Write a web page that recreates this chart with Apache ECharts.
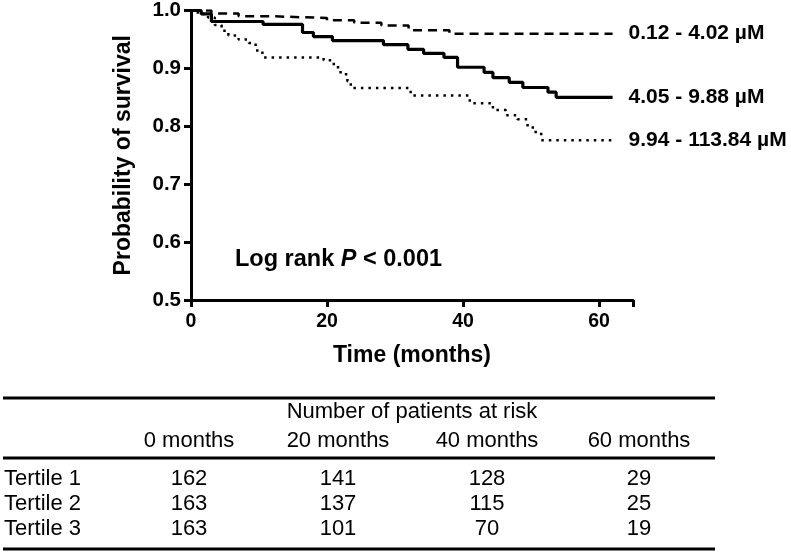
<!DOCTYPE html>
<html>
<head>
<meta charset="utf-8">
<script src="https://cdn.jsdelivr.net/npm/echarts@6/dist/echarts.min.js"></script>
<style>
html,body{margin:0;padding:0;background:#fff;}
#chart{width:791px;height:559px;}
</style>
</head>
<body>
<div id="chart"></div>
<script>
// ---- Kaplan-Meier curves (months, survival probability) ----
const t1Months = [0, 3, 7, 12, 20, 24, 28, 32, 38, 62];
const t1Surv   = [1.0, 0.995, 0.990, 0.987, 0.983, 0.979, 0.974, 0.966, 0.960, 0.960];

const t2Months = [0, 1.5, 3, 10.6, 16.4, 18, 20.8, 28.3, 31.9, 34.2, 37.2, 39.2, 43.1, 44.4, 46.8, 48.8, 52.5, 53.7, 62];
const t2Surv   = [1.0, 0.994, 0.981, 0.976, 0.962, 0.955, 0.948, 0.941, 0.933, 0.926, 0.919, 0.902, 0.893, 0.884, 0.876, 0.867, 0.859, 0.850, 0.850];

const t3Months = [0, 1, 2.5, 3.5, 4.5, 5.5, 7, 8.5, 9.5, 10.5, 19.5, 21, 22, 23, 23.5, 32.3, 41, 44.4, 46.3, 48, 49.5, 50.5, 51.5, 62];
const t3Surv   = [1.0, 0.994, 0.988, 0.975, 0.965, 0.957, 0.950, 0.944, 0.931, 0.919, 0.914, 0.902, 0.890, 0.878, 0.866, 0.853, 0.840, 0.828, 0.819, 0.812, 0.798, 0.790, 0.776, 0.776];

const seriesLabels = ['0.12 - 4.02 µM', '4.05 - 9.88 µM', '9.94 - 113.84 µM'];

// ---- Table: number of patients at risk ----
const tableTitle = 'Number of patients at risk';
const tableCols = ['0 months', '20 months', '40 months', '60 months'];
const tableRows = ['Tertile 1', 'Tertile 2', 'Tertile 3'];
const atRiskT1 = [162, 141, 128, 29];
const atRiskT2 = [163, 137, 115, 25];
const atRiskT3 = [163, 101, 70, 19];

const xTicks = [0, 20, 40, 60];
const yTicks = [0.5, 0.6, 0.7, 0.8, 0.9, 1.0];

function pairs(xs, ys) { return xs.map((x, i) => [x, ys[i]]); }

const FONT = '"Liberation Sans", Arial, Helvetica, sans-serif';
const chart = echarts.init(document.getElementById('chart'), null, {renderer: 'canvas'});

const mkSeries = (name, data, lineType, width) => ({
  name: name,
  type: 'line',
  step: 'end',
  data: data,
  symbol: 'none',
  lineStyle: {color: '#000', width: width, type: lineType},
  endLabel: {
    show: true,
    formatter: name,
    distance: 16,
    color: '#000',
    fontFamily: FONT,
    fontWeight: 'bold',
    fontSize: 21
  },
  animation: false,
  z: 3
});

// table graphics
const colX = [189, 338, 487, 639];
const rowY = [479, 504, 529];
const allRows = [atRiskT1, atRiskT2, atRiskT3];
const tableGraphics = [];
const tfont = {fontFamily: FONT, fontSize: 22, fill: '#000'};
[398, 458, 549].forEach(y => {
  tableGraphics.push({type: 'line', shape: {x1: 3, y1: y, x2: 715, y2: y}, style: {stroke: '#000', lineWidth: 3}});
});
tableGraphics.push({type: 'text', x: 412, y: 412, style: Object.assign({text: tableTitle, textAlign: 'center', textVerticalAlign: 'middle'}, tfont)});
tableCols.forEach((c, i) => {
  tableGraphics.push({type: 'text', x: colX[i], y: 441, style: Object.assign({text: c, textAlign: 'center', textVerticalAlign: 'middle'}, tfont)});
});
tableRows.forEach((r, j) => {
  tableGraphics.push({type: 'text', x: 4, y: rowY[j], style: Object.assign({text: r, textAlign: 'left', textVerticalAlign: 'middle'}, tfont)});
  allRows[j].forEach((v, i) => {
    tableGraphics.push({type: 'text', x: colX[i], y: rowY[j], style: Object.assign({text: String(v), textAlign: 'center', textVerticalAlign: 'middle'}, tfont)});
  });
});
tableGraphics.push({
  type: 'text', x: 235, y: 260,
  style: {
    text: '{a|Log rank }{b|P}{a| < 0.001}',
    textVerticalAlign: 'middle',
    rich: {
      a: {fontFamily: FONT, fontWeight: 'bold', fontSize: 23.5, fill: '#000'},
      b: {fontFamily: FONT, fontWeight: 'bold', fontStyle: 'italic', fontSize: 23.5, fill: '#000'}
    }
  }
});

chart.setOption({
  animation: false,
  backgroundColor: '#fff',
  grid: {left: 191, top: 10, width: 442, height: 290, containLabel: false},
  xAxis: {
    type: 'value', min: 0, max: 65, interval: 20,
    name: 'Time (months)', nameLocation: 'middle', nameGap: 44,
    nameTextStyle: {fontFamily: FONT, fontWeight: 'bold', fontSize: 23, color: '#000'},
    axisLine: {show: true, lineStyle: {color: '#000', width: 3}},
    axisTick: {show: true, length: 7, lineStyle: {color: '#000', width: 3}},
    axisLabel: {
      margin: 12, color: '#000', fontFamily: FONT, fontWeight: 'bold', fontSize: 19.5,
      formatter: v => (xTicks.indexOf(v) >= 0 ? String(v) : '')
    },
    splitLine: {show: false}
  },
  yAxis: {
    type: 'value', min: 0.5, max: 1.0, interval: 0.1,
    name: 'Probability of survival', nameLocation: 'middle', nameGap: 56,
    nameTextStyle: {fontFamily: FONT, fontWeight: 'bold', fontSize: 23, color: '#000'},
    axisLine: {show: true, lineStyle: {color: '#000', width: 3}},
    axisTick: {show: true, length: 7, lineStyle: {color: '#000', width: 3}},
    axisLabel: {
      margin: 10, color: '#000', fontFamily: FONT, fontWeight: 'bold', fontSize: 20.5,
      formatter: v => v.toFixed(1)
    },
    splitLine: {show: false}
  },
  series: [
    mkSeries(seriesLabels[0], pairs(t1Months, t1Surv), [9, 6], 2.5),
    mkSeries(seriesLabels[1], pairs(t2Months, t2Surv), 'solid', 3.2),
    mkSeries(seriesLabels[2], pairs(t3Months, t3Surv), [2.5, 5], 2.5)
  ],
  graphic: tableGraphics
});
</script>
</body>
</html>
